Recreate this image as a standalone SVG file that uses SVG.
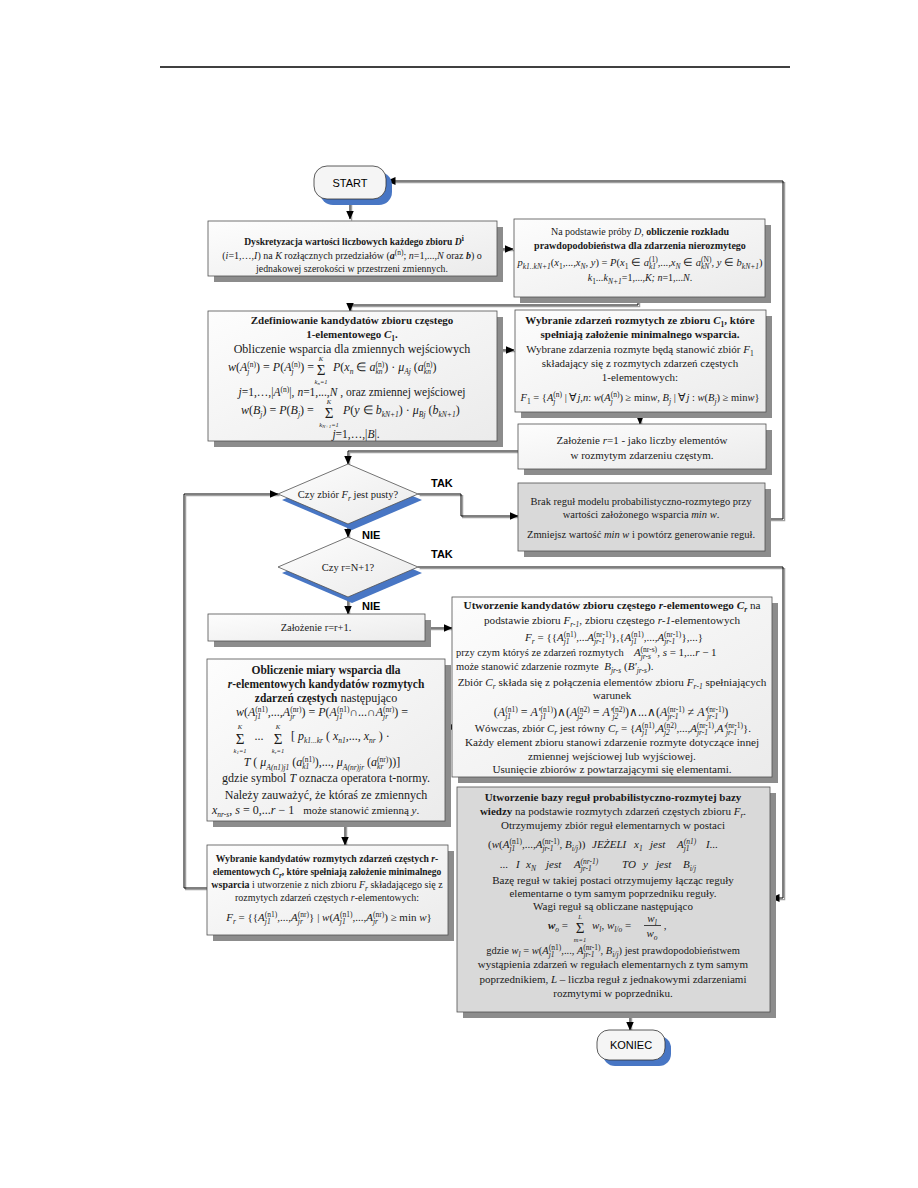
<svg xmlns="http://www.w3.org/2000/svg" width="918" height="1188" viewBox="0 0 918 1188">
<style>
text{font-family:"Liberation Serif","Times New Roman",serif;font-size:10px;fill:#1a1a1a;text-anchor:middle}
.k98 text{font-size:9.8px}
.k10 text{font-size:10px}
.k105 text{font-size:10.5px}
.k11 text{font-size:11px}
.k112 text{font-size:11.2px}
.k12 text{font-size:12px}
.l,text.l{text-anchor:start}
.b{font-weight:bold}
.i{font-style:italic}
.s,text.s{font-size:7.5px}
.lim,text.lim{font-size:6.5px;font-style:italic}
.f,text.f{font-size:11px}
.f12,text.f12{font-size:12px}
.sum,text.sum{font-size:15px}
.lbl{font-family:"Liberation Sans",Arial,sans-serif;font-weight:bold;font-size:11px;text-anchor:start;fill:#000}
.term{font-family:"Liberation Sans",Arial,sans-serif;font-size:11px;fill:#000}
.box{fill:url(#gw);stroke:#505050;stroke-width:0.8}
.gbox{fill:#d9d9d9;stroke:#505050;stroke-width:0.8}
.sh{fill:#8c8c8c}
.bsh{fill:#4876c4}
.c{fill:none;stroke:#000;stroke-width:1}
.cs{fill:none;stroke:#a0a0a0;stroke-width:1.3}
</style>
<defs>
<linearGradient id="gw" x1="0" y1="0" x2="1" y2="1"><stop offset="0" stop-color="#fdfdfd"/><stop offset="1" stop-color="#ebebeb"/></linearGradient>
<marker id="ar" markerWidth="9" markerHeight="8" refX="8.5" refY="4" orient="auto" markerUnits="userSpaceOnUse"><path d="M0,0 L9,4 L0,8 z" fill="#000"/></marker>
</defs>
<rect width="918" height="1188" fill="#fff"/>
<line x1="160" y1="67" x2="790" y2="67" stroke="#000" stroke-width="1.3"/>

<g id="connectors">
<g transform="translate(1.6,1.6)">
<path class="cs" d="M350,199 V219"/>
<path class="cs" d="M497,249 H513"/>
<path class="cs" d="M638,297 V305 H350 V311"/>
<path class="cs" d="M497,350 H514"/>
<path class="cs" d="M640,412 V424"/>
<path class="cs" d="M518,451 H348 V464"/>
<path class="cs" d="M418,494 H461 V516 H518"/>
<path class="cs" d="M765,519 H783 V181 H387"/>
<path class="cs" d="M207,888 H184 V494 H278"/>
<path class="cs" d="M348,524 V537"/>
<path class="cs" d="M418,567 H783 V898 H771"/>
<path class="cs" d="M348,597 V614"/>
<path class="cs" d="M425,628 H452"/>
<path class="cs" d="M452,727 H446"/>
<path class="cs" d="M345,821 V845"/>
<path class="cs" d="M630,1012 V1030"/>
</g>
<path class="c" marker-end="url(#ar)" d="M350,199 V219"/>
<path class="c" marker-end="url(#ar)" d="M497,249 H513"/>
<path class="c" marker-end="url(#ar)" d="M638,297 V305 H350 V311"/>
<path class="c" marker-end="url(#ar)" d="M497,350 H514"/>
<path class="c" marker-end="url(#ar)" d="M640,412 V424"/>
<path class="c" marker-end="url(#ar)" d="M518,451 H348 V464"/>
<path class="c" marker-end="url(#ar)" d="M418,494 H461 V516 H518"/>
<path class="c" marker-end="url(#ar)" d="M765,519 H783 V181 H387"/>
<path class="c" marker-end="url(#ar)" d="M207,888 H184 V494 H278"/>
<path class="c" marker-end="url(#ar)" d="M348,524 V537"/>
<path class="c" marker-end="url(#ar)" d="M418,567 H783 V898 H771"/>
<path class="c" marker-end="url(#ar)" d="M348,597 V614"/>
<path class="c" marker-end="url(#ar)" d="M425,628 H452"/>
<path class="c" marker-end="url(#ar)" d="M457,727 H446"/>
<path class="c" marker-end="url(#ar)" d="M345,821 V845"/>
<path class="c" marker-end="url(#ar)" d="M630,1012 V1030"/>
<text x="431" y="487" class="lbl">TAK</text>
<text x="431" y="558" class="lbl">TAK</text>
<text x="362" y="539" class="lbl">NIE</text>
<text x="362" y="610" class="lbl">NIE</text>
</g>

<g id="start">
<rect x="320" y="172" width="72" height="33" rx="13" class="bsh"/>
<rect x="314" y="166" width="72" height="33" rx="13" fill="#f5f5f5" stroke="#333" stroke-width="0.8"/>
<text x="350" y="186.5" class="term">START</text>
</g>

<g id="n-dyskretyzacja" class="k98">
<rect x="214" y="227" width="289" height="55" class="sh"/>
<rect x="208" y="221" width="289" height="55" class="box"/>
<text x="354" y="245" class="b" style="font-size:9.6px">Dyskretyzacja wartości liczbowych każdego zbioru <tspan class="i">D</tspan><tspan class="s" dy="-4">i</tspan></text>
<text x="352" y="259" style="font-size:10px">(<tspan class="i">i</tspan>=1,…,<tspan class="i">I</tspan>) na <tspan class="i">K</tspan> rozłącznych przedziałów (<tspan class="b i">a</tspan><tspan class="s" dy="-4">(n)</tspan><tspan dy="4">; </tspan><tspan class="i">n</tspan>=1,...,<tspan class="i">N</tspan> oraz <tspan class="b i">b</tspan>) o</text>
<text x="352" y="272">jednakowej szerokości w przestrzeni zmiennych.</text>
</g>

<g id="n-rozklad" class="k10">
<rect x="520" y="225" width="251" height="78" class="sh"/>
<rect x="514" y="219" width="251" height="78" class="box"/>
<text x="640" y="235">Na podstawie próby <tspan class="i">D</tspan>, <tspan class="b">obliczenie rozkładu</tspan></text>
<text x="640" y="249" class="b">prawdopodobieństwa dla zdarzenia nierozmytego</text>
<text x="640" y="266" style="font-size:10.5px"><tspan class="i">p</tspan><tspan class="s i" dy="3">k1..kN+1</tspan><tspan dy="-3">(</tspan><tspan class="i">x</tspan><tspan class="s" dy="3">1</tspan><tspan dy="-3">,...,</tspan><tspan class="i">x</tspan><tspan class="s i" dy="3">N</tspan><tspan dy="-3">, </tspan><tspan class="i">y</tspan>) = <tspan class="i">P</tspan>(<tspan class="i">x</tspan><tspan class="s" dy="3">1</tspan><tspan dy="-3"> ∈ </tspan><tspan class="i">a</tspan><tspan class="s i" dy="3">k1</tspan><tspan class="s" dx="-7.1" dy="-7">(1)</tspan><tspan dy="4">,...,</tspan><tspan class="i">x</tspan><tspan class="s i" dy="3">N</tspan><tspan dy="-3"> ∈ </tspan><tspan class="i">a</tspan><tspan class="s i" dy="3">kN</tspan><tspan class="s" dx="-8.3" dy="-7">(N)</tspan><tspan dy="4">, </tspan><tspan class="i">y</tspan> ∈ <tspan class="i">b</tspan><tspan class="s i" dy="3">kN+1</tspan><tspan dy="-3">)</tspan></text>
<text x="640" y="281"><tspan class="i">k</tspan><tspan class="s" dy="3">1</tspan><tspan dy="-3" class="i">...k</tspan><tspan class="s i" dy="3">N+1</tspan><tspan dy="-3">=1,...,</tspan><tspan class="i">K; n</tspan>=1,...<tspan class="i">N</tspan>.</text>
</g>

<g id="n-kandydaci1" class="k12">
<rect x="214" y="317" width="289" height="130" class="sh"/>
<rect x="208" y="311" width="289" height="130" class="box"/>
<text x="352" y="324" class="b" style="font-size:11px">Zdefiniowanie kandydatów zbioru częstego</text>
<text x="352" y="338" class="b" style="font-size:11px">1-elementowego <tspan class="i">C</tspan><tspan class="s" dy="2.5">1</tspan><tspan dy="-2.5">.</tspan></text>
<text x="352" y="353">Obliczenie wsparcia dla zmiennych wejściowych</text>
<text x="228" y="371" class="l f12"><tspan class="i">w</tspan>(<tspan class="i">A</tspan><tspan class="s i" dy="3">j</tspan><tspan class="s" dx="-2.1" dy="-7">(n)</tspan><tspan dy="4">) = </tspan><tspan class="i">P</tspan>(<tspan class="i">A</tspan><tspan class="s i" dy="3">j</tspan><tspan class="s" dx="-2.1" dy="-7">(n)</tspan><tspan dy="4">) =</tspan></text>
<text x="321" y="375" class="sum">Σ</text>
<text x="321" y="361" class="lim">K</text>
<text x="321" y="384" class="lim">k<tspan dy="1" style="font-size:5px">n</tspan><tspan dy="-1">=1</tspan></text>
<text x="333" y="371" class="l f12"><tspan class="i">P</tspan>(<tspan class="i">x</tspan><tspan class="s i" dy="3">n</tspan><tspan dy="-3"> ∈ </tspan><tspan class="i">a</tspan><tspan class="s i" dy="3">kn</tspan><tspan class="s" dx="-7.1" dy="-7">(n)</tspan><tspan dy="4">) · </tspan><tspan class="i">μ</tspan><tspan class="s i" dy="3">Aj</tspan><tspan dy="-3"> (</tspan><tspan class="i">a</tspan><tspan class="s i" dy="3">kn</tspan><tspan class="s" dx="-7.1" dy="-7">(n)</tspan><tspan dy="4">)</tspan></text>
<text x="352" y="396" style="font-size:11.5px"><tspan class="i">j</tspan>=1,…,|<tspan class="i">A</tspan><tspan class="s" dy="-4">(n)</tspan><tspan dy="4">|, </tspan><tspan class="i">n</tspan>=1,...,<tspan class="i">N</tspan> , oraz zmiennej wejściowej</text>
<text x="241" y="414" class="l f12"><tspan class="i">w</tspan>(<tspan class="i">B</tspan><tspan class="s i" dy="3">j</tspan><tspan dy="-3">) = </tspan><tspan class="i">P</tspan>(<tspan class="i">B</tspan><tspan class="s i" dy="3">j</tspan><tspan dy="-3">) =</tspan></text>
<text x="329" y="418" class="sum">Σ</text>
<text x="329" y="404" class="lim">K</text>
<text x="329" y="427" class="lim">k<tspan dy="1" style="font-size:5px">N+1</tspan><tspan dy="-1">=1</tspan></text>
<text x="343" y="414" class="l f12"><tspan class="i">P</tspan>(<tspan class="i">y</tspan> ∈ <tspan class="i">b</tspan><tspan class="s i" dy="3">kN+1</tspan><tspan dy="-3">) · </tspan><tspan class="i">μ</tspan><tspan class="s i" dy="3">Bj</tspan><tspan dy="-3"> (</tspan><tspan class="i">b</tspan><tspan class="s i" dy="3">kN+1</tspan><tspan dy="-3">)</tspan></text>
<text x="356" y="438" style="font-size:11.5px"><tspan class="i">j</tspan>=1,…,|<tspan class="i">B</tspan>|.</text>
</g>

<g id="n-wybranie1" class="k11">
<rect x="521" y="316" width="251" height="102" class="sh"/>
<rect x="515" y="310" width="251" height="102" class="box"/>
<text x="640" y="324" class="b">Wybranie zdarzeń rozmytych ze zbioru <tspan class="i">C</tspan><tspan class="s" dy="2.5">1</tspan><tspan dy="-2.5">, które</tspan></text>
<text x="640" y="338" class="b">spełniają założenie minimalnego wsparcia.</text>
<text x="640" y="353">Wybrane zdarzenia rozmyte będą stanowić zbiór <tspan class="i">F</tspan><tspan class="s" dy="2.5">1</tspan></text>
<text x="640" y="367">składający się z rozmytych zdarzeń częstych</text>
<text x="640" y="381">1-elementowych:</text>
<text x="640" y="401" style="font-size:10.5px"><tspan class="i">F</tspan><tspan class="s" dy="3">1</tspan><tspan dy="-3"> = {</tspan><tspan class="i">A</tspan><tspan class="s i" dy="3">j</tspan><tspan class="s" dx="-2.1" dy="-7">(n)</tspan><tspan dy="4"> | ∀</tspan><tspan class="i">j</tspan>,<tspan class="i">n</tspan>: <tspan class="i">w</tspan>(<tspan class="i">A</tspan><tspan class="s i" dy="3">j</tspan><tspan class="s" dx="-2.1" dy="-7">(n)</tspan><tspan dy="4">) ≥ min</tspan><tspan class="i">w</tspan>,     <tspan class="i">B</tspan><tspan class="s i" dy="3">j</tspan><tspan dy="-3"> | ∀</tspan><tspan class="i">j</tspan> : <tspan class="i">w</tspan>(<tspan class="i">B</tspan><tspan class="s i" dy="3">j</tspan><tspan dy="-3">) ≥ min</tspan><tspan class="i">w</tspan>}</text>
</g>

<g id="n-zalozenie1" class="k11">
<rect x="524" y="430" width="248" height="45" class="sh"/>
<rect x="518" y="424" width="248" height="45" class="box"/>
<text x="642" y="444">Założenie <tspan class="i">r</tspan>=1 - jako liczby elementów</text>
<text x="642" y="459">w rozmytym zdarzeniu częstym.</text>
</g>

<g id="d-pusty" class="k105">
<polygon points="352,470 422,500 352,530 282,500" class="bsh"/>
<polygon points="348,464 418,494 348,524 278,494" class="box"/>
<text x="348" y="498">Czy zbiór <tspan class="i">F</tspan><tspan class="s i" dy="2.5">r</tspan><tspan dy="-2.5"> jest pusty?</tspan></text>
</g>

<g id="n-brak" class="k105">
<rect x="524" y="489" width="247" height="68" class="sh"/>
<rect x="518" y="483" width="247" height="68" class="gbox"/>
<text x="641" y="505">Brak reguł modelu probabilistyczno-rozmytego przy</text>
<text x="641" y="518">wartości założonego wsparcia <tspan class="i">min w</tspan>.</text>
<text x="641" y="538">Zmniejsz wartość <tspan class="i">min w</tspan> i powtórz generowanie reguł.</text>
</g>

<g id="d-rN1" class="k105">
<polygon points="352,543 422,573 352,603 282,573" class="bsh"/>
<polygon points="348,537 418,567 348,597 278,567" class="box"/>
<text x="348" y="571">Czy r=N+1?</text>
</g>

<g id="n-zalozenie-r" class="k105">
<rect x="214" y="620" width="217" height="27" class="sh"/>
<rect x="208" y="614" width="217" height="27" class="box"/>
<text x="316" y="631">Założenie r=r+1.</text>
</g>

<g id="n-utworzenie-kand" class="k112">
<rect x="458" y="603" width="320" height="180" class="sh"/>
<rect x="452" y="597" width="320" height="180" class="box"/>
<text x="612" y="609" class="b">Utworzenie kandydatów zbioru częstego <tspan class="i">r</tspan>-elementowego <tspan class="i">C</tspan><tspan class="s i" dy="2.5">r</tspan><tspan dy="-2.5" font-weight="normal"> na</tspan></text>
<text x="612" y="624">podstawie zbioru <tspan class="i">F</tspan><tspan class="s i" dy="2.5">r-1</tspan><tspan dy="-2.5">, zbioru częstego </tspan><tspan class="i">r-1</tspan>-elementowych</text>
<text x="614" y="641" class="f"><tspan class="i">F</tspan><tspan class="s i" dy="3">r</tspan><tspan dy="-3"> = {{</tspan><tspan class="i">A</tspan><tspan class="s i" dy="3">j1</tspan><tspan class="s" dx="-5.8" dy="-7">(n1)</tspan><tspan dy="4">,...</tspan><tspan class="i">A</tspan><tspan class="s i" dy="3">jr-1</tspan><tspan class="s" dx="-11.3" dy="-7">(nr-1)</tspan><tspan dy="4">},{</tspan><tspan class="i">A</tspan><tspan class="s i" dy="3">j1</tspan><tspan class="s" dx="-5.8" dy="-7">(n1)</tspan><tspan dy="4">,...,</tspan><tspan class="i">A</tspan><tspan class="s i" dy="3">jr-1</tspan><tspan class="s" dx="-11.3" dy="-7">(nr-1)</tspan><tspan dy="4">},...}</tspan></text>
<text x="456" y="656" class="l" style="font-size:10.5px">przy czym któryś ze zdarzeń rozmytych</text>
<text x="634" y="656" class="l f"><tspan class="i">A</tspan><tspan class="s i" dy="3">jr-s</tspan><tspan class="s" dx="-10.4" dy="-7">(nr-s)</tspan><tspan dy="4">, </tspan><tspan class="i">s</tspan> = 1,...<tspan class="i">r</tspan> − 1</text>
<text x="456" y="670" class="l" style="font-size:10.5px">może stanowić zdarzenie rozmyte <tspan class="f i" dx="3">B</tspan><tspan class="s i" dy="3">jr-s</tspan><tspan dy="-3" class="f"> (</tspan><tspan class="f i">B'</tspan><tspan class="s i" dy="3">jr-s</tspan><tspan dy="-3" class="f">).</tspan></text>
<text x="612" y="686">Zbiór <tspan class="i">C</tspan><tspan class="s i" dy="2.5">r</tspan><tspan dy="-2.5"> składa się z połączenia elementów zbioru </tspan><tspan class="i">F</tspan><tspan class="s i" dy="2.5">r-1</tspan><tspan dy="-2.5"> spełniających</tspan></text>
<text x="612" y="699">warunek</text>
<text x="611" y="716" class="f12">(<tspan class="i">A</tspan><tspan class="s i" dy="3">j1</tspan><tspan class="s" dx="-5.8" dy="-7">(n1)</tspan><tspan dy="4"> = </tspan><tspan class="i">A'</tspan><tspan class="s i" dy="3">j1</tspan><tspan class="s" dx="-5.8" dy="-7">(n1)</tspan><tspan dy="4">)∧(</tspan><tspan class="i">A</tspan><tspan class="s i" dy="3">j2</tspan><tspan class="s" dx="-5.8" dy="-7">(n2)</tspan><tspan dy="4"> = </tspan><tspan class="i">A'</tspan><tspan class="s i" dy="3">j2</tspan><tspan class="s" dx="-5.8" dy="-7">(n2)</tspan><tspan dy="4">)∧...∧(</tspan><tspan class="i">A</tspan><tspan class="s i" dy="3">jr-1</tspan><tspan class="s" dx="-11.3" dy="-7">(nr-1)</tspan><tspan dy="4"> ≠ </tspan><tspan class="i">A'</tspan><tspan class="s i" dy="3">jr-1</tspan><tspan class="s" dx="-11.3" dy="-7">(nr-1)</tspan><tspan dy="4">)</tspan></text>
<text x="613" y="732" style="font-size:10.8px">Wówczas, zbiór <tspan class="i">C</tspan><tspan class="s i" dy="2.5">r</tspan><tspan dy="-2.5"> jest równy </tspan><tspan class="f i">C</tspan><tspan class="s i" dy="3">r</tspan><tspan dy="-3" class="f"> = {</tspan><tspan class="f i">A</tspan><tspan class="s i" dy="3">j1</tspan><tspan class="s" dx="-5.8" dy="-7">(n1)</tspan><tspan dy="4" class="f">,</tspan><tspan class="f i">A</tspan><tspan class="s i" dy="3">j2</tspan><tspan class="s" dx="-5.8" dy="-7">(n2)</tspan><tspan dy="4" class="f">,...,</tspan><tspan class="f i">A</tspan><tspan class="s i" dy="3">jr-1</tspan><tspan class="s" dx="-11.3" dy="-7">(nr-1)</tspan><tspan dy="4" class="f">,</tspan><tspan class="f i">A'</tspan><tspan class="s i" dy="3">jr-1</tspan><tspan class="s" dx="-11.3" dy="-7">(nr-1)</tspan><tspan dy="4" class="f">}.</tspan></text>
<text x="612" y="746">Każdy element zbioru stanowi zdarzenie rozmyte dotyczące innej</text>
<text x="612" y="760">zmiennej wejściowej lub wyjściowej.</text>
<text x="612" y="773">Usunięcie zbiorów z powtarzającymi się elementami.</text>
</g>

<g id="n-obliczenie" class="k12">
<rect x="213" y="665" width="238" height="162" class="sh"/>
<rect x="207" y="659" width="238" height="162" class="box"/>
<text x="326" y="674" class="b" style="font-size:11.5px">Obliczenie miary wsparcia dla</text>
<text x="326" y="688" class="b" style="font-size:11.5px"><tspan class="i">r</tspan>-elementowych kandydatów rozmytych</text>
<text x="326" y="702"><tspan class="b" style="font-size:11.5px">zdarzeń częstych</tspan> następująco</text>
<text x="322" y="716" class="f12"><tspan class="i">w</tspan>(<tspan class="i">A</tspan><tspan class="s i" dy="3">j1</tspan><tspan class="s" dx="-5.8" dy="-7">(n1)</tspan><tspan dy="4">,...,</tspan><tspan class="i">A</tspan><tspan class="s i" dy="3">jr</tspan><tspan class="s" dx="-5" dy="-7">(nr)</tspan><tspan dy="4">) = </tspan><tspan class="i">P</tspan>(<tspan class="i">A</tspan><tspan class="s i" dy="3">j1</tspan><tspan class="s" dx="-5.8" dy="-7">(n1)</tspan><tspan dy="4">∩...∩</tspan><tspan class="i">A</tspan><tspan class="s i" dy="3">jr</tspan><tspan class="s" dx="-5" dy="-7">(nr)</tspan><tspan dy="4">) =</tspan></text>
<text x="240" y="744" class="sum">Σ</text>
<text x="240" y="729" class="lim">K</text>
<text x="240" y="753" class="lim">k<tspan dy="1" style="font-size:5px">1</tspan><tspan dy="-1">=1</tspan></text>
<text x="259" y="740" class="f12">...</text>
<text x="278" y="744" class="sum">Σ</text>
<text x="278" y="729" class="lim">K</text>
<text x="278" y="753" class="lim">k<tspan dy="1" style="font-size:5px">r</tspan><tspan dy="-1">=1</tspan></text>
<text x="291" y="740" class="l f12">[ <tspan class="i">p</tspan><tspan class="s i" dy="3">k1...kr</tspan><tspan dy="-3"> ( </tspan><tspan class="i">x</tspan><tspan class="s i" dy="3">n1</tspan><tspan dy="-3">,..., </tspan><tspan class="i">x</tspan><tspan class="s i" dy="3">nr</tspan><tspan dy="-3"> ) ·</tspan></text>
<text x="322" y="766" class="f12"><tspan class="i">T</tspan> ( <tspan class="i">μ</tspan><tspan class="s i" dy="4">A(n1)j1</tspan><tspan dy="-4"> (</tspan><tspan class="i">a</tspan><tspan class="s i" dy="3">k1</tspan><tspan class="s" dx="-7.1" dy="-7">(n1)</tspan><tspan dy="4">),..., </tspan><tspan class="i">μ</tspan><tspan class="s i" dy="4">A(nr)jr</tspan><tspan dy="-4"> (</tspan><tspan class="i">a</tspan><tspan class="s i" dy="3">kr</tspan><tspan class="s" dx="-6.2" dy="-7">(nr)</tspan><tspan dy="4">))]</tspan></text>
<text x="326" y="782">gdzie symbol <tspan class="i">T</tspan> oznacza operatora t-normy.</text>
<text x="326" y="799">Należy zauważyć, że któraś ze zmiennych</text>
<text x="212" y="814" class="l"><tspan class="f12 i">x</tspan><tspan class="s i" dy="3">nr-s</tspan><tspan dy="-3" class="f12">, </tspan><tspan class="f12 i">s</tspan><tspan class="f12"> = 0,...</tspan><tspan class="f12 i">r</tspan><tspan class="f12"> − 1</tspan><tspan dx="9" style="font-size:11px">może stanowić zmienną </tspan><tspan class="i" style="font-size:11px">y</tspan><tspan style="font-size:11px">.</tspan></text>
</g>

<g id="n-wybranie-kand" class="k10">
<rect x="213" y="851" width="241" height="90" class="sh"/>
<rect x="207" y="845" width="241" height="90" class="box"/>
<text x="327" y="862" class="b" style="font-size:9.7px">Wybranie kandydatów rozmytych zdarzeń częstych <tspan class="i">r</tspan>-</text>
<text x="327" y="875" class="b" style="font-size:9.5px">elementowych <tspan class="i">C</tspan><tspan class="s i" dy="2.5">r</tspan><tspan dy="-2.5">, które spełniają założenie minimalnego</tspan></text>
<text x="327" y="888"><tspan class="b">wsparcia</tspan> i utworzenie z nich zbioru <tspan class="i">F</tspan><tspan class="s i" dy="2.5">r</tspan><tspan dy="-2.5"> składającego się z</tspan></text>
<text x="327" y="901">rozmytych zdarzeń częstych <tspan class="i">r</tspan>-elementowych:</text>
<text x="329" y="921" class="f"><tspan class="i">F</tspan><tspan class="s i" dy="3">r</tspan><tspan dy="-3"> = {{</tspan><tspan class="i">A</tspan><tspan class="s i" dy="3">j1</tspan><tspan class="s" dx="-5.8" dy="-7">(n1)</tspan><tspan dy="4">,...,</tspan><tspan class="i">A</tspan><tspan class="s i" dy="3">jr</tspan><tspan class="s" dx="-5" dy="-7">(nr)</tspan><tspan dy="4">} | </tspan><tspan class="i">w</tspan>(<tspan class="i">A</tspan><tspan class="s i" dy="3">j1</tspan><tspan class="s" dx="-5.8" dy="-7">(n1)</tspan><tspan dy="4">,...,</tspan><tspan class="i">A</tspan><tspan class="s i" dy="3">jr</tspan><tspan class="s" dx="-5" dy="-7">(nr)</tspan><tspan dy="4">) ≥ min </tspan><tspan class="i">w</tspan>}</text>
</g>

<g id="n-baza" class="k11">
<rect x="463" y="793" width="313" height="225" class="sh"/>
<rect x="457" y="787" width="313" height="225" class="gbox"/>
<text x="613" y="801" class="b">Utworzenie bazy reguł probabilistyczno-rozmytej bazy</text>
<text x="613" y="815"><tspan class="b">wiedzy</tspan> na podstawie rozmytych zdarzeń częstych zbioru <tspan class="i">F</tspan><tspan class="s i" dy="2.5">r</tspan><tspan dy="-2.5">.</tspan></text>
<text x="613" y="829">Otrzymujemy zbiór reguł elementarnych w postaci</text>
<text x="488" y="848" class="l f">(<tspan class="i">w</tspan>(<tspan class="i">A</tspan><tspan class="s i" dy="3">j1</tspan><tspan class="s" dx="-5.8" dy="-7">(n1)</tspan><tspan dy="4">,...,</tspan><tspan class="i">A</tspan><tspan class="s i" dy="3">jr-1</tspan><tspan class="s" dx="-11.3" dy="-7">(nr-1)</tspan><tspan dy="4">, </tspan><tspan class="i">B</tspan><tspan class="s i" dy="3">i/j</tspan><tspan dy="-3">))</tspan></text>
<text x="592" y="848" class="l f i">JEŻELI</text>
<text x="634" y="848" class="l f i">x<tspan class="s" dy="3">1</tspan></text>
<text x="650" y="848" class="l f i">jest</text>
<text x="677" y="848" class="l f i">A<tspan class="s" dy="3">j1</tspan><tspan class="s" dx="-5.8" dy="-7">(n1)</tspan></text>
<text x="706" y="848" class="l f i">I...</text>
<text x="500" y="868" class="l f i">...</text>
<text x="516" y="868" class="l f i">I</text>
<text x="526" y="868" class="l f i">x<tspan class="s" dy="3">N</tspan></text>
<text x="546" y="868" class="l f i">jest</text>
<text x="574" y="868" class="l f i">A<tspan class="s" dy="3">jr-1</tspan><tspan class="s" dx="-11.3" dy="-7">(nr-1)</tspan></text>
<text x="622" y="868" class="l f i">TO</text>
<text x="643" y="868" class="l f i">y</text>
<text x="656" y="868" class="l f i">jest</text>
<text x="683" y="868" class="l f i">B<tspan class="s" dy="3">i/j</tspan></text>
<text x="613" y="884">Bazę reguł w takiej postaci otrzymujemy łącząc reguły</text>
<text x="613" y="897">elementarne o tym samym poprzedniku reguły.</text>
<text x="613" y="910">Wagi reguł są obliczane następująco</text>
<text x="548" y="929" class="l f"><tspan class="i b">w</tspan><tspan class="s i" dy="3">o</tspan><tspan dy="-3"> =</tspan></text>
<text x="580" y="933" class="sum">Σ</text>
<text x="580" y="919" class="lim">L</text>
<text x="580" y="942" class="lim">m=1</text>
<text x="592" y="929" class="l f"><tspan class="i">w</tspan><tspan class="s i" dy="3">l</tspan><tspan dy="-3">, </tspan><tspan class="i">w</tspan><tspan class="s i" dy="3">l/o</tspan><tspan dy="-3"> =</tspan></text>
<text x="652" y="922" class="f i">w<tspan class="s" dy="3">l</tspan></text>
<line x1="644" y1="925.5" x2="661" y2="925.5" stroke="#1a1a1a" stroke-width="0.8"/>
<text x="652" y="937" class="f i">w<tspan class="s" dy="3">o</tspan></text>
<text x="665" y="929" class="f">,</text>
<text x="613" y="954" style="font-size:10.5px">gdzie  <tspan class="i">w</tspan><tspan class="s i" dy="3">l</tspan><tspan dy="-3"> = </tspan><tspan class="i">w</tspan>(<tspan class="i">A</tspan><tspan class="s i" dy="3">j1</tspan><tspan class="s" dx="-5.8" dy="-7">(n1)</tspan><tspan dy="4">,..., </tspan><tspan class="i">A</tspan><tspan class="s i" dy="3">jr-1</tspan><tspan class="s" dx="-11.3" dy="-7">(nr-1)</tspan><tspan dy="4">, </tspan><tspan class="i">B</tspan><tspan class="s i" dy="3">i/j</tspan><tspan dy="-3">) jest prawdopodobieństwem</tspan></text>
<text x="613" y="968">wystąpienia zdarzeń w regułach elementarnych z tym samym</text>
<text x="613" y="983">poprzednikiem, <tspan class="i">L</tspan> – liczba reguł z jednakowymi zdarzeniami</text>
<text x="613" y="997">rozmytymi w  poprzedniku.</text>
</g>

<g id="koniec">
<rect x="603" y="1036" width="68" height="30" rx="12" class="bsh"/>
<rect x="597" y="1030" width="68" height="30" rx="12" fill="#f5f5f5" stroke="#333" stroke-width="0.8"/>
<text x="631" y="1049" class="term">KONIEC</text>
</g>
</svg>
